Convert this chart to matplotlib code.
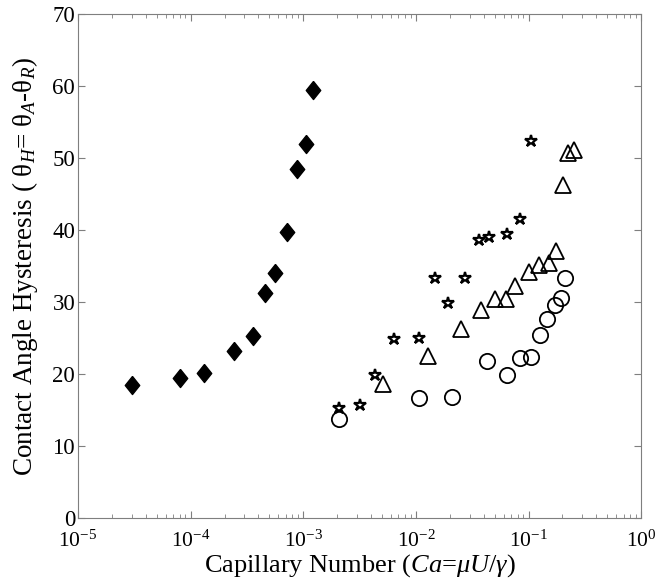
import matplotlib
matplotlib.use('Agg')
import matplotlib.pyplot as plt
import numpy as np

plt.rcParams['font.family'] = 'Liberation Serif'
plt.rcParams['mathtext.fontset'] = 'custom'
plt.rcParams['mathtext.rm'] = 'Liberation Serif'
plt.rcParams['mathtext.it'] = 'Liberation Serif:italic'

# diamonds
ca_d = [3.03e-5, 8.0e-5, 1.31e-4, 2.42e-4, 3.55e-4, 4.59e-4, 5.6e-4, 7.2e-4, 8.8e-4, 1.05e-3, 1.22e-3]
th_d = [18.5, 19.5, 20.1, 23.2, 25.3, 31.2, 34.0, 39.7, 48.5, 52.0, 59.4]

# stars
ca_s = [2.08e-3, 3.2e-3, 4.3e-3, 6.4e-3, 0.0106, 0.0147, 0.0191, 0.0275, 0.0361, 0.0444, 0.0637, 0.0835, 0.106]
th_s = [15.3, 15.7, 19.9, 24.8, 25.0, 33.4, 29.9, 33.4, 38.6, 39.0, 39.4, 41.5, 52.4]

# triangles
ca_t = [5.1e-3, 0.0127, 0.0253, 0.0377, 0.0508, 0.0628, 0.0755, 0.1, 0.124, 0.152, 0.174, 0.202, 0.226, 0.252]
th_t = [18.6, 22.5, 26.3, 28.9, 30.4, 30.4, 32.2, 34.1, 35.1, 35.4, 37.1, 46.2, 50.7, 51.1]

# circles
ca_c = [2.08e-3, 0.0106, 0.0211, 0.0429, 0.0637, 0.0835, 0.106, 0.126, 0.146, 0.171, 0.192, 0.211]
th_c = [13.7, 16.6, 16.8, 21.8, 19.9, 22.2, 22.4, 25.4, 27.7, 29.6, 30.5, 33.3]

diamond = [(0, 1), (0.8, 0), (0, -1), (-0.8, 0), (0, 1)]

fig = plt.figure(figsize=(6.55, 5.81), dpi=100)
ax = fig.add_axes([0.119, 0.1084, 0.860, 0.8675])

ax.plot(ca_d, th_d, linestyle='none', marker=diamond, markersize=13, color='k')
ax.plot(ca_s, th_s, linestyle='none', marker='*', markersize=9, mfc='white', mec='k', mew=1.6)
ax.plot(ca_t, th_t, linestyle='none', marker='^', markersize=11, mfc='none', mec='k', mew=1.3)
ax.plot(ca_c, th_c, linestyle='none', marker='o', markersize=11, mfc='none', mec='k', mew=1.3)

ax.set_xscale('log')
ax.set_xlim(1e-5, 1)
ax.set_ylim(0, 70)
ax.set_yticks(np.arange(0, 71, 10))

for sp in ax.spines.values():
    sp.set_color('#7f7f7f')
ax.tick_params(which='both', direction='in', top=True, right=True, color='#7f7f7f')
ax.tick_params(which='major', length=5)
ax.tick_params(which='minor', length=3)
ax.tick_params(axis='y', labelsize=16.5, pad=2)
ax.tick_params(axis='x', labelsize=15.5, pad=9)

ax.set_xlabel(r'Capillary Number ($Ca$=$\mu U/\gamma$)', fontsize=19, labelpad=0)
ax.set_ylabel(r'Contact Angle Hysteresis ( θ$_H$= θ$_A$-θ$_R$)', fontsize=19.5, labelpad=9)

plt.savefig('out.png', dpi=100)
